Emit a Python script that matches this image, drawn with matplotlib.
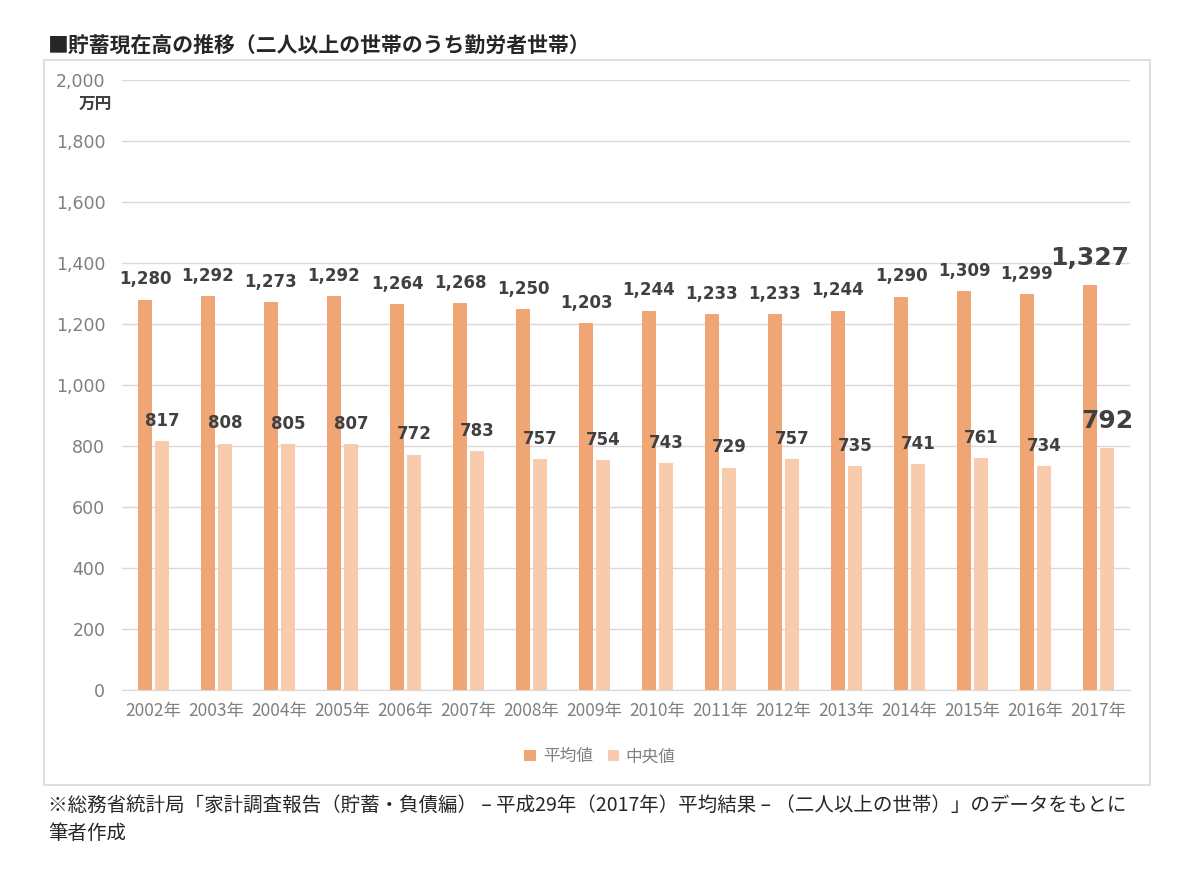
import matplotlib.pyplot as plt
import numpy as np
from matplotlib.patches import Rectangle

plt.rcParams['font.family'] = ['DejaVu Sans', 'Noto Sans CJK JP']

# データ（万円）
years = ["2002年", "2003年", "2004年", "2005年", "2006年", "2007年", "2008年", "2009年",
         "2010年", "2011年", "2012年", "2013年", "2014年", "2015年", "2016年", "2017年"]
mean_vals = [1280, 1292, 1273, 1292, 1264, 1268, 1250, 1203,
             1244, 1233, 1233, 1244, 1290, 1309, 1299, 1327]
median_vals = [817, 808, 805, 807, 772, 783, 757, 754,
               743, 729, 757, 735, 741, 761, 734, 792]
series_names = ["平均値", "中央値"]

c_mean = "#EFA574"
c_median = "#F7CBAB"
txt_dark = "#404040"
txt_grey = "#7F7F7F"
jp = ['Noto Sans CJK JP', 'DejaVu Sans']
num = ['DejaVu Sans']

fig = plt.figure(figsize=(12, 8.69), dpi=100)
fig.patch.set_facecolor("white")

# 枠
fig.patches.append(Rectangle((0.0367, 0.0967), 0.9213, 0.8343, transform=fig.transFigure,
                             fill=False, edgecolor="#D9D9D9", linewidth=1.2))

ax = fig.add_axes([0.1017, 0.206, 0.84, 0.702])
x = np.arange(len(years))
w = 0.225
b1 = ax.bar(x - 0.135, mean_vals, w, color=c_mean, label=series_names[0], zorder=3)
b2 = ax.bar(x + 0.135, median_vals, w, color=c_median, label=series_names[1], zorder=3)

ax.set_xlim(-0.5, len(years) - 0.5)
ax.set_ylim(0, 2000)
ax.set_yticks(range(0, 2001, 200))
ax.set_yticklabels([f"{v:,}" for v in range(0, 2001, 200)], color=txt_grey, fontsize=12.5,
                   family=num)
ax.set_xticks(x)
ax.set_xticklabels(years, color=txt_grey, fontsize=12.5, family=jp)
ax.tick_params(axis="both", length=0)
ax.tick_params(axis="y", pad=12)
ax.tick_params(axis="x", pad=9)
ax.grid(axis="y", color="#D9D9D9", linewidth=1, zorder=0)
for s in ["top", "right", "left"]:
    ax.spines[s].set_visible(False)
ax.spines["bottom"].set_color("#D9D9D9")

# ラベル
last = len(years) - 1
for i, (m, d) in enumerate(zip(mean_vals, median_vals)):
    big = i == last
    fs = 18 if big else 12
    off = 19.5 if big else 14.5
    ax.annotate(f"{m:,}", (x[i] - 0.135, m), xytext=(0, off),
                textcoords="offset points", ha="center", va="center",
                fontsize=fs, fontweight="bold", color=txt_dark, family=num)
    ax.annotate(f"{d:,}", (x[i] + 0.135, d), xytext=(0, off),
                textcoords="offset points", ha="center", va="center",
                fontsize=fs, fontweight="bold", color=txt_dark, family=num)

fig.text(0.079, 0.881, "万円", fontsize=12, fontweight="bold", color=txt_dark, family=jp,
         ha="center", va="center")

leg = fig.legend(handles=[b1, b2], loc="center", bbox_to_anchor=(0.5, 0.129), ncol=2,
                 frameon=False, handlelength=0.7, handleheight=0.7, handletextpad=0.4,
                 columnspacing=0.9, prop={"family": jp, "size": 12})
for t in leg.get_texts():
    t.set_color(txt_grey)

fig.text(0.04, 0.948, "■貯蓄現在高の推移（二人以上の世帯のうち勤労者世帯）", fontsize=15,
         fontweight="bold", color="#262626", family=jp, va="center")
fig.text(0.04, 0.073, "※総務省統計局「家計調査報告（貯蓄・負債編） – 平成29年（2017年）平均結果 – （二人以上の世帯）」のデータをもとに",
         fontsize=14, color="#262626", family=jp, va="center")
fig.text(0.04, 0.041, "筆者作成", fontsize=14, color="#262626", family=jp, va="center")

plt.savefig("out.png", dpi=100)
